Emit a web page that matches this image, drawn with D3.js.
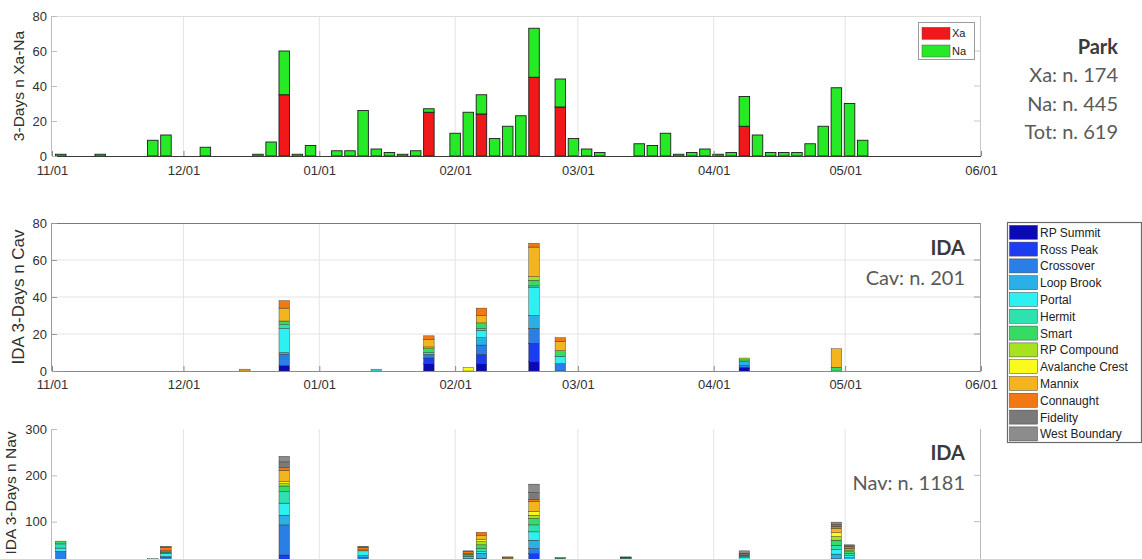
<!DOCTYPE html>
<html><head><meta charset="utf-8">
<script src="https://cdn.jsdelivr.net/npm/d3@7"></script>
<style>body{margin:0;background:#fff;} svg{display:block;}</style>
</head><body>
<svg id="c" width="1142" height="559"></svg>
<script>
// ---------- DATA ----------
const monthTicks = ["2018-11-01","2018-12-01","2019-01-01","2019-02-01","2019-03-01","2019-04-01","2019-05-01","2019-06-01"];

// Park panel: 3-day bins (bin centre dates)
const parkDates = ["2018-11-03","2018-11-12","2018-11-24","2018-11-27","2018-12-06","2018-12-18","2018-12-21","2018-12-24","2018-12-27","2018-12-30",
  "2019-01-05","2019-01-08","2019-01-11","2019-01-14","2019-01-17","2019-01-20","2019-01-23","2019-01-26",
  "2019-02-01","2019-02-04","2019-02-07","2019-02-10","2019-02-13","2019-02-16","2019-02-19","2019-02-25","2019-02-28",
  "2019-03-03","2019-03-06","2019-03-15","2019-03-18","2019-03-21","2019-03-24","2019-03-27","2019-03-30",
  "2019-04-02","2019-04-05","2019-04-08","2019-04-11","2019-04-14","2019-04-17","2019-04-20","2019-04-23","2019-04-26","2019-04-29",
  "2019-05-02","2019-05-05"];
const xaValues = [0,0,0,0,0,0,0,35,0,0, 0,0,0,0,0,0,0,25, 0,0,24,0,0,0,45,28,0, 0,0,0,0,0,0,0,0, 0,0,17,0,0,0,0,0,0,0, 0,0];
const naValues = [1,1,9,12,5,1,8,25,1,6, 3,3,26,4,2,1,3,2, 13,25,11,10,17,23,28,16,10, 4,2,7,6,13,1,2,4, 1,2,17,12,2,2,2,7,17,39, 30,9];

const sites = ["RP Summit","Ross Peak","Crossover","Loop Brook","Portal","Hermit","Smart","RP Compound","Avalanche Crest","Mannix","Connaught","Fidelity","West Boundary"];
const siteColors = ["#0a0ab4","#1b3cf0","#2a7fe6","#2ab0e6","#2ef0f0","#2ee2b0","#34dc64","#a6e21e","#fafa1e","#f4b41e","#f27814","#7a7a7a","#8c8c8c"];

// Cav panel: rows = bins, columns = sites (order as in `sites`)
const cavDates = ["2018-12-15","2018-12-24","2019-01-14","2019-01-26","2019-02-04","2019-02-07","2019-02-19","2019-02-25","2019-04-08","2019-04-29"];
const cavCounts = [
  [0,0,0,0,0,0,0,0,0,1,0,0,0],
  [3,0,6,1,13,2,2,0,0,7,4,0,0],
  [0,0,0,0,1,0,0,0,0,0,0,0,0],
  [4,3,2,0,0,1,2,1,0,4,2,0,0],
  [0,0,0,0,0,0,0,0,2,0,0,0,0],
  [4,5,5,4,4,1,3,0,0,4,4,0,0],
  [5,10,8,7,15,1,3,2,0,16,2,0,0],
  [0,0,4,0,4,0,3,0,0,5,2,0,0],
  [2,0,1,2,0,0,1,1,0,0,0,0,0],
  [0,0,0,0,0,0,2,0,0,10,0,0,0]
];

// Nav panel
const navDates = ["2018-11-03","2018-11-24","2018-11-27","2018-12-24","2019-01-11","2019-02-04","2019-02-07","2019-02-13","2019-02-19","2019-02-25","2019-03-12","2019-04-08","2019-04-29","2019-05-02"];
const navCounts = [
  [3,5,28,0,7,9,6,0,0,0,0,0,0],
  [2,4,8,0,2,0,4,0,0,0,0,0,0],
  [5,8,10,2,7,2,1,0,0,2,7,3,0],
  [12,16,65,21,26,25,12,5,4,25,6,12,12],
  [5,8,10,4,10,0,0,0,0,2,6,2,0],
  [4,6,8,3,3,2,3,1,2,0,3,2,0],
  [5,8,8,11,3,7,8,7,4,10,6,0,0],
  [3,4,5,2,2,1,1,1,2,1,2,0,0],
  [10,21,11,18,18,15,14,7,8,21,5,15,18],
  [3,4,6,3,3,2,2,0,0,0,0,0,0],
  [4,5,5,2,3,2,1,0,0,0,1,1,0],
  [4,5,6,4,3,3,2,0,0,0,1,4,5],
  [4,7,9,10,10,9,11,8,8,10,4,4,5],
  [4,6,7,5,5,4,4,3,3,2,3,2,2]
];

const parkTicks = [0,20,40,60,80];
const cavTicks = [0,20,40,60,80];
const navTicks = [100,200,300];
const parkText = ["Park","Xa: n. 174","Na: n. 445","Tot: n. 619"];
const cavText = ["IDA","Cav: n. 201"];
const navText = ["IDA","Nav: n. 1181"];

// ---------- DRAW ----------
const svg = d3.select("#c");
const parse = d3.utcParse("%Y-%m-%d");
const fmt = d3.utcFormat("%m/%d");
const X0 = 52, X1 = 981;
const x = d3.scaleUtc().domain([parse(monthTicks[0]), parse(monthTicks[monthTicks.length-1])]).range([X0, X1]);
const tickDates = monthTicks.map(parse);
const barW = x(new Date(+parse("2018-11-01") + 2.4*864e5)) - X0;
const AX = "Liberation Sans, Arial, sans-serif";

function panel(p) {
  const y = d3.scaleLinear().domain([0, p.ymax]).range([p.y1, p.y0]);
  const g = svg.append("g");
  g.selectAll(".vg").data(tickDates.slice(1,-1)).join("line")
    .attr("x1", d=>x(d)).attr("x2", d=>x(d)).attr("y1", p.y0).attr("y2", p.y1)
    .attr("stroke", "#e4e4e4").attr("stroke-width", 1);
  if (p.hgrid) {
    g.selectAll(".hg").data(p.ticks.slice(1,-1)).join("line")
      .attr("x1", X0).attr("x2", X1).attr("y1", d=>y(d)).attr("y2", d=>y(d))
      .attr("stroke", "#e4e4e4").attr("stroke-width", 1);
  }
  return {g, y};
}
function frame(p, y, g) {
  g.selectAll(".rt").data(p.ticks.filter(t=>t>0 && t<p.ymax)).join("line")
    .attr("x1", X1-7).attr("x2", X1).attr("y1", d=>y(d)).attr("y2", d=>y(d)).attr("stroke", p.rightCol);
  if (p.topCol) g.append("line").attr("x1", X0).attr("x2", X1).attr("y1", p.y0+0.5).attr("y2", p.y0+0.5).attr("stroke", p.topCol);
  g.append("line").attr("x1", X1-0.5).attr("x2", X1-0.5).attr("y1", p.y0).attr("y2", p.y1).attr("stroke", p.rightCol);
  g.append("line").attr("x1", X0-0.5).attr("x2", X0-0.5).attr("y1", p.y0).attr("y2", p.y1).attr("stroke", p.leftCol);
  g.append("line").attr("x1", X0).attr("x2", X1).attr("y1", p.y1+0.5).attr("y2", p.y1+0.5).attr("stroke", p.bottomCol).attr("stroke-width", p.bottomW||1);
  const ya = d3.axisLeft(y).tickValues(p.ticks).tickSize(-5).tickSizeOuter(0).tickPadding(5);
  const yg = g.append("g").attr("transform", `translate(${X0},0)`).call(ya);
  yg.select(".domain").remove();
  yg.selectAll("line").attr("stroke", p.leftCol);
  yg.selectAll("text").attr("font-family", AX).attr("font-size", 13).attr("fill", "#303030");
  if (p.xlabels) {
    const xa = d3.axisBottom(x).tickValues(tickDates).tickFormat(fmt).tickSize(-5).tickSizeOuter(0).tickPadding(p.xpad);
    const xg = g.append("g").attr("transform", `translate(0,${p.y1})`).call(xa);
    xg.select(".domain").remove();
    xg.selectAll("line").attr("stroke", "#888");
    xg.selectAll("text").attr("font-family", AX).attr("font-size", 13).attr("fill", "#303030");
  }
  g.append("text").attr("transform", `translate(${p.titleX},${p.titleY ?? (p.y0+p.y1)/2}) rotate(-90)`)
    .attr("text-anchor", "middle").attr("font-family", AX).attr("font-size", p.titleSize).attr("fill", "#303030")
    .text(p.title);
}
function sideText(lines, rightX, ys, boldFirst) {
  lines.forEach((t,i)=>{
    svg.append("text").attr("x", rightX).attr("y", ys[i]).attr("text-anchor","end")
      .attr("font-family","Lato, 'Open Sans', sans-serif").attr("font-size", 20)
      .attr("font-weight", (i===0 && boldFirst) ? 700 : 400)
      .attr("fill", (i===0 && boldFirst) ? "#3a3a3a" : "#5a5a5a").text(t);
  });
}

// ---- Panel 1: Park ----
const p1 = {y0:16, y1:156, ymax:80, ticks:parkTicks, hgrid:false, topCol:"#dcdcdc", rightCol:"#c8c8c8", leftCol:"#bdbdbd", bottomCol:"#3a3a3a", bottomW:1.2, xlabels:true, xpad:10, title:"3-Days n Xa-Na", titleX:24, titleSize:15.5};
{
  const {g, y} = panel(p1);
  const rows = parkDates.map((d,i)=>({d:parse(d), xa:xaValues[i], na:naValues[i]}));
  const bars = g.selectAll(".pb").data(rows).join("g");
  bars.filter(r=>r.xa>0).append("rect")
    .attr("x", r=>x(r.d)-barW/2).attr("width", barW)
    .attr("y", r=>y(r.xa)).attr("height", r=>y(0)-y(r.xa))
    .attr("fill", "#f01818").attr("stroke", "#1e1e1e").attr("stroke-width", 0.9);
  bars.filter(r=>r.na>0).append("rect")
    .attr("x", r=>x(r.d)-barW/2).attr("width", barW)
    .attr("y", r=>y(r.xa+r.na)).attr("height", r=>y(r.xa)-y(r.xa+r.na))
    .attr("fill", "#26ea26").attr("stroke", "#1e1e1e").attr("stroke-width", 0.9);
  frame(p1, y, g);
  const lg = svg.append("g");
  lg.append("rect").attr("x", 918.5).attr("y", 22.5).attr("width", 56).attr("height", 37).attr("fill", "#fff").attr("stroke", "#9a9a9a");
  [["Xa","#f01818"],["Na","#26ea26"]].forEach(([t,c],i)=>{
    const cy = 33.3 + i*17.7;
    lg.append("rect").attr("x", 922).attr("y", cy-6).attr("width", 28).attr("height", 12).attr("fill", c).attr("stroke","#555").attr("stroke-width",0.5);
    lg.append("text").attr("x", 952).attr("y", cy+4).attr("font-family", AX).attr("font-size", 11).attr("fill","#222").text(t);
  });
  sideText(parkText, 1118, [53.5, 82, 111, 139], true);
}

function stacked(g, y, dates, counts) {
  const rows = counts.map((c,i)=>{ const o={d:parse(dates[i])}; sites.forEach((s,j)=>o[s]=c[j]); return o; });
  const series = d3.stack().keys(sites)(rows);
  series.forEach((s,j)=>{
    g.append("g").selectAll("rect").data(s.filter(v=>v[1]>v[0])).join("rect")
      .attr("x", v=>x(v.data.d)-barW/2).attr("width", barW)
      .attr("y", v=>y(v[1])).attr("height", v=>y(v[0])-y(v[1]))
      .attr("fill", siteColors[j]).attr("stroke", "#2a2a2a").attr("stroke-width", 0.4);
  });
}

// ---- Panel 2: Cav ----
const p2 = {y0:223, y1:371, ymax:80, ticks:cavTicks, hgrid:true, topCol:"#7a7a7a", rightCol:"#9a9a9a", leftCol:"#9a9a9a", bottomCol:"#8a8a8a", xlabels:true, xpad:9, title:"IDA 3-Days n Cav", titleX:24, titleSize:17};
{
  const {g, y} = panel(p2);
  stacked(g, y, cavDates, cavCounts);
  frame(p2, y, g);
  sideText(cavText, 965, [255, 285], true);
}

// ---- Panel 3: Nav ----
const p3 = {y0:429, y1:568, ymax:300, ticks:navTicks, hgrid:false, topCol:null, rightCol:"#bcbcbc", leftCol:"#bcbcbc", bottomCol:"#8a8a8a", xlabels:false, title:"IDA 3-Days n Nav", titleX:16, titleY:493, titleSize:15.5};
{
  const {g, y} = panel(p3);
  stacked(g, y, navDates, navCounts);
  frame(p3, y, g);
  sideText(navText, 965, [460, 490], true);
}

// ---- Site legend ----
{
  const lg = svg.append("g");
  lg.append("rect").attr("x", 1007.5).attr("y", 222.5).attr("width", 134).attr("height", 220).attr("fill","#fff").attr("stroke","#6a6a6a").attr("stroke-width",1.2);
  sites.forEach((s,i)=>{
    const cy = 232.3 + i*16.8;
    lg.append("rect").attr("x", 1009.5).attr("y", cy-7).attr("width", 28).attr("height", 14).attr("fill", siteColors[i]).attr("stroke","#444").attr("stroke-width",0.5);
    lg.append("text").attr("x", 1040).attr("y", cy+4.5).attr("font-family", AX).attr("font-size", 12).attr("fill","#222").text(s);
  });
}
</script>
</body></html>
